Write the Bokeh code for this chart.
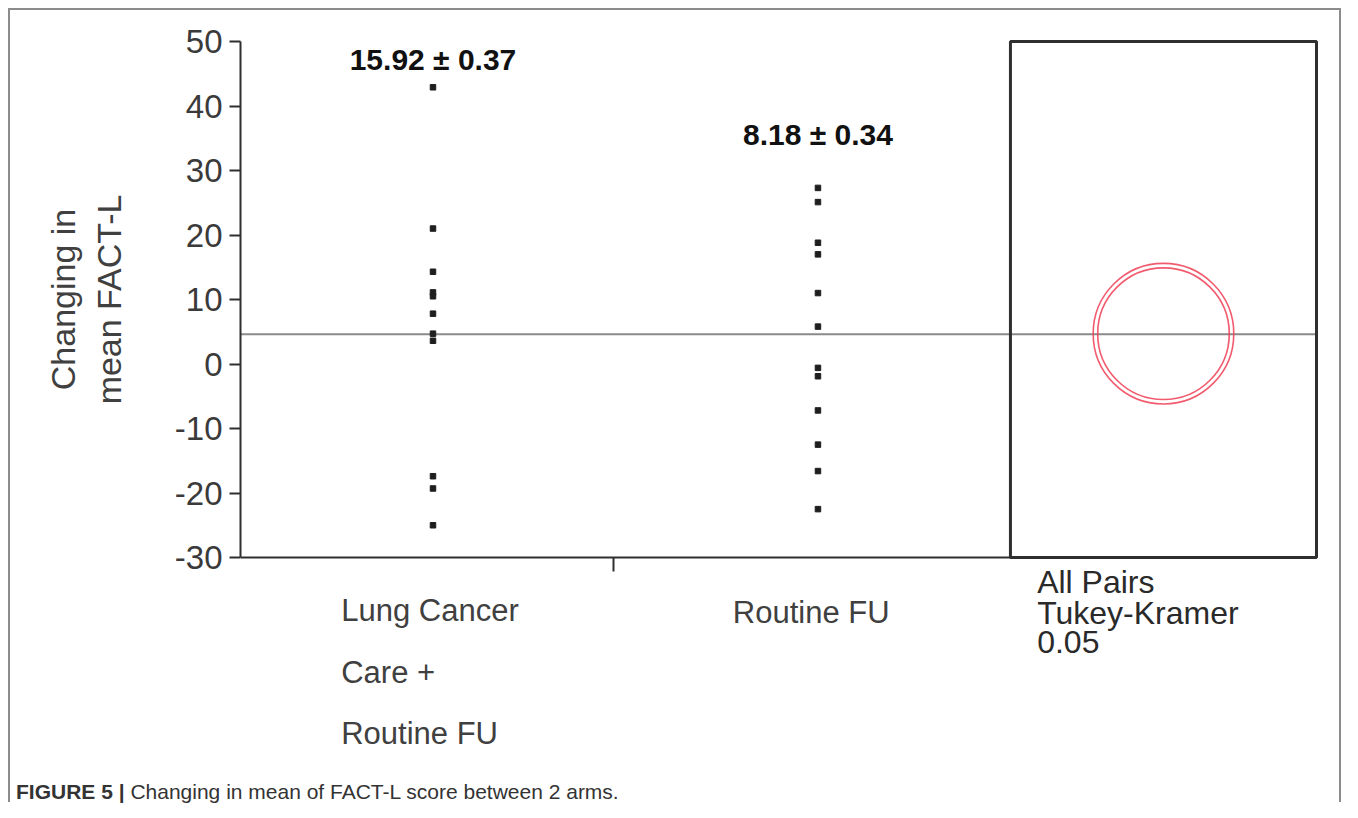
from bokeh.plotting import figure
from bokeh.models import Range1d, FixedTicker, PrintfTickFormatter, Div
from bokeh.layouts import column, row
from bokeh.core.properties import value
from bokeh.embed import file_html
from bokeh.resources import INLINE
from math import pi

# ---------------- data ----------------
category_lines = [["Lung Cancer", "Care +", "Routine FU"], ["Routine FU"]]
lung_care_values = [42.9, 21.0, 14.3, 11.1, 10.5, 7.8, 4.7, 3.6, -17.4, -19.3, -25.0]
routine_fu_values = [27.3, 25.1, 18.8, 17.0, 11.0, 5.8, -0.6, -1.9, -7.2, -12.5, -16.6, -22.5]
group_labels = ["15.92 \u00b1 0.37", "8.18 \u00b1 0.34"]
grand_mean = 4.6
circle_centers = [4.7, 4.7]
circle_radii = [10.9, 10.2]
panel_lines = ["All Pairs", "Tukey-Kramer", "0.05"]
y_ticks = [-30, -20, -10, 0, 10, 20, 30, 40, 50]
y_title_lines = ["Changing in", "mean FACT-L"]
caption_bold = "FIGURE 5 |"
caption_text = "Changing in mean of FACT-L score between 2 arms."

FONT = "Liberation Sans"
W = 1342
WT = 140               # width of the y-title strip
H1, H3 = 772, 30
PX_X = 385.0           # px per x unit
PX_Y = 6.45            # px per y unit
LEFT = 240             # frame left (px, page)
TOP = 39               # frame top (px)
Y0, Y1 = -30, 50
X_END = 2.795          # 2 category slots + comparison-circle panel
BOX_LEFT = 2.0
LINE = "#2f2f2f"
BASE_SHIFT = 0.38      # svg text baseline correction (em)


def vy(ypix, size=0.0):
    """page pixel (baseline) -> data value on the vertical scale"""
    return Y1 - (ypix - BASE_SHIFT * size - 41) / PX_Y


def vx(xpix):
    return (xpix - LEFT) / PX_X


# ---------------- main plot ----------------
p = figure(width=W - WT, height=H1, output_backend="svg", toolbar_location=None, title=None,
           x_axis_location="above",
           x_range=Range1d(0, X_END + 4 / PX_X), y_range=Range1d(vy(H1), Y1 + 2 / PX_Y),
           min_border_left=LEFT - WT, min_border_right=22, min_border_top=TOP,
           min_border_bottom=0)
p.outline_line_color = None
p.background_fill_color = None
p.border_fill_color = None
p.xgrid.visible = False
p.ygrid.visible = False

p.yaxis.ticker = FixedTicker(ticks=y_ticks)
p.yaxis.formatter = PrintfTickFormatter(format="%d")
p.yaxis.bounds = (Y0, Y1)
p.yaxis.minor_tick_line_color = None
p.yaxis.major_tick_in = 0
p.yaxis.major_tick_out = 11
p.yaxis.major_tick_line_width = 2
p.yaxis.major_tick_line_color = LINE
p.yaxis.axis_line_width = 2
p.yaxis.axis_line_color = LINE
p.yaxis.major_label_text_font = FONT
p.yaxis.major_label_text_font_size = "33px"
p.yaxis.major_label_text_color = "#3a3a3a"
p.yaxis.major_label_standoff = 7

# x axis drawn at y = -30, with a single separator tick pointing down
p.xaxis.fixed_location = Y0
p.xaxis.ticker = FixedTicker(ticks=[0.97])
p.xaxis.bounds = (0, X_END)
p.xaxis.minor_tick_line_color = None
p.xaxis.major_tick_in = 14
p.xaxis.major_tick_out = 0
p.xaxis.major_tick_line_width = 2
p.xaxis.major_tick_line_color = LINE
p.xaxis.axis_line_width = 2
p.xaxis.axis_line_color = LINE
p.xaxis.major_label_standoff = 0
p.xaxis.major_label_text_font_size = "1px"
p.xaxis.major_label_overrides = {0.97: ""}

# grand mean line
p.segment(x0=[0], y0=[grand_mean], x1=[X_END], y1=[grand_mean],
          line_color="#8a8a8a", line_width=2)

# comparison panel box
p.quad(left=[BOX_LEFT], right=[X_END], bottom=[Y0], top=[Y1],
       fill_color=None, line_color=LINE, line_width=3)

# points
xs1 = [0.5] * len(lung_care_values)
xs2 = [1.5] * len(routine_fu_values)
p.scatter(xs1 + xs2, lung_care_values + routine_fu_values, marker="square",
          size=5.5, color="#1e1e1e")

# comparison circles
cx = (BOX_LEFT + X_END) / 2
p.circle(x=[cx, cx], y=circle_centers, radius=circle_radii, radius_dimension="y",
         fill_color=None, line_color="#ee3e55", line_width=1.6, line_alpha=0.85)

# group mean labels
p.text(x=[0.5, 1.5], y=[vy(70, 30), vy(145, 30)], text=group_labels, text_align="center",
       text_baseline="alphabetic", text_font=value(FONT), text_font_style="bold",
       text_font_size="30px", text_color="#111111")

# category labels under the axis
CAT = 31
cat_x = [vx(340.7), vx(732.3)]
cat_base = [[621.7, 683.3, 745.0], [624.0]]
tx, ty, tt = [], [], []
for lines, x0, bases in zip(category_lines, cat_x, cat_base):
    for line, b in zip(lines, bases):
        tx.append(x0)
        ty.append(vy(b, CAT))
        tt.append(line)
p.text(x=tx, y=ty, text=tt, text_align="left", text_baseline="alphabetic",
       text_font=value(FONT), text_font_size=f"{CAT}px", text_color="#404040")

PAN = 32
p.text(x=[vx(1036.7)] * 3, y=[vy(594, PAN), vy(625, PAN), vy(654, PAN)], text=panel_lines,
       text_align="left", text_baseline="alphabetic", text_font=value(FONT),
       text_font_size=f"{PAN}px", text_color="#2a2a2a")

# ---------------- y-axis title strip (shares the vertical scale) ----------------
TS = 34
t = figure(width=WT, height=H1, output_backend="svg", toolbar_location=None, title=None,
           x_range=Range1d(0, WT), y_range=p.y_range, x_axis_type=None, y_axis_type=None,
           min_border_left=0, min_border_right=0, min_border_top=TOP, min_border_bottom=0)
t.outline_line_color = None
t.background_fill_color = None
t.border_fill_color = None
t.xgrid.visible = False
t.ygrid.visible = False
t.text(x=[75 - BASE_SHIFT * TS, 121 - BASE_SHIFT * TS], y=[vy(299)] * 2, text=y_title_lines,
       angle=pi / 2, text_align="center", text_baseline="alphabetic",
       text_font=value(FONT), text_font_size=f"{TS}px", text_color="#404040")

# ---------------- caption ----------------
cap = Div(width=W, height=H3, margin=(0, 0, 0, 0),
          text=(f'<div style="padding:9px 0 0 16px; font-family:\'{FONT}\'; font-size:21px; '
                f'line-height:21px; color:#333333; white-space:nowrap;">'
                f'<b>{caption_bold}</b> {caption_text}</div>'))

layout = column(row(t, p, spacing=0), cap, spacing=0)
layout.styles = {
    "background-color": "white",
    "background-image": "linear-gradient(#8c8c8c,#8c8c8c), linear-gradient(#8c8c8c,#8c8c8c), linear-gradient(#8c8c8c,#8c8c8c)",
    "background-position": "8px 8px, 8px 8px, 1339px 8px",
    "background-size": "1332px 2px, 2px 100%, 2px 100%",
    "background-repeat": "no-repeat",
}

open("out.html", "w").write(file_html(layout, INLINE))
